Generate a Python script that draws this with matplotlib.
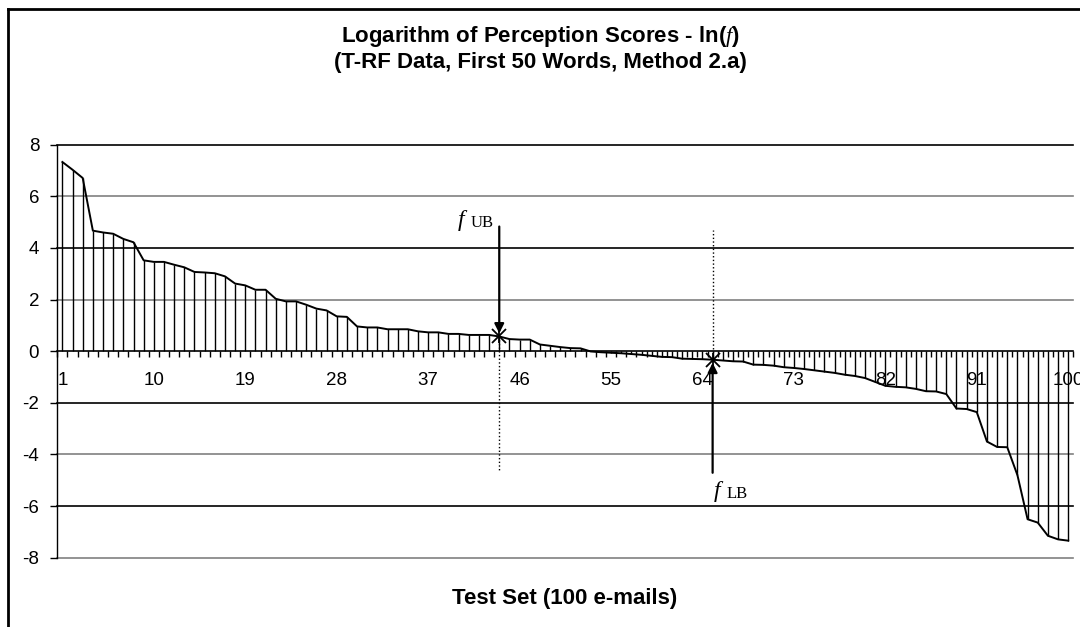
import matplotlib
matplotlib.use('Agg')
import matplotlib.pyplot as plt
from matplotlib.lines import Line2D
import numpy as np

plt.rcParams['font.family'] = ['Liberation Sans', 'DejaVu Sans']
plt.rcParams['mathtext.fontset'] = 'custom'
plt.rcParams['mathtext.rm'] = 'Liberation Serif'
plt.rcParams['mathtext.it'] = 'Liberation Serif:italic'

# ln(f) for the 100 test e-mails, sorted
scores = [7.33, 7.03, 6.71, 4.67, 4.60, 4.55, 4.35, 4.22, 3.52, 3.46,
          3.46, 3.35, 3.25, 3.07, 3.05, 3.02, 2.90, 2.62, 2.55, 2.38,
          2.38, 2.03, 1.93, 1.93, 1.80, 1.65, 1.58, 1.35, 1.33, 0.96,
          0.92, 0.92, 0.85, 0.85, 0.85, 0.77, 0.73, 0.73, 0.67, 0.67,
          0.63, 0.63, 0.63, 0.57, 0.47, 0.45, 0.45, 0.26, 0.21, 0.16,
          0.12, 0.11, -0.01, -0.04, -0.06, -0.08, -0.11, -0.14, -0.18, -0.22,
          -0.23, -0.29, -0.30, -0.31, -0.33, -0.36, -0.39, -0.40, -0.52, -0.53,
          -0.56, -0.62, -0.65, -0.69, -0.74, -0.79, -0.84, -0.91, -0.96, -1.04,
          -1.19, -1.34, -1.38, -1.40, -1.46, -1.55, -1.56, -1.66, -2.22, -2.24,
          -2.36, -3.50, -3.71, -3.72, -4.80, -6.51, -6.64, -7.15, -7.29, -7.34]
emails = list(range(1, 101))
x_ticks = list(range(1, 101, 9))
y_ticks = [-8, -6, -4, -2, 0, 2, 4, 6, 8]

ub_idx = 44
lb_idx = 65

fig = plt.figure(figsize=(10.8, 6.27), dpi=100)
ax = fig.add_axes([57.3 / 1080, 1 - 557.7 / 627, 1016 / 1080, 413 / 627])

# grid lines (alternate dark/grey like the original)
for yv in y_ticks:
    if yv == 0:
        continue
    col = '#000000' if yv in (8, 4, -2, -6) else '#808080'
    ax.axhline(yv, color=col, lw=1.2, zorder=1, clip_on=False)

ax.vlines(emails, 0, scores, color='black', lw=1.0, zorder=2)
ax.plot(emails, scores, color='black', lw=1.4, zorder=3)

ub_y = scores[ub_idx - 1]
lb_y = scores[lb_idx - 1]
for xi, yi in [(ub_idx, ub_y), (lb_idx, lb_y)]:
    ax.plot(xi, yi, marker='x', ms=10, mew=1.3, color='black', zorder=5)
    ax.plot(xi, yi, marker='|', ms=10, mew=1.3, color='black', zorder=5)

# bounds
ax.plot([ub_idx, ub_idx], [ub_y, -4.6], ls=':', color='black', lw=1.0, zorder=4)
ax.plot([lb_idx, lb_idx], [lb_y, 4.7], ls=':', color='black', lw=1.0, zorder=4)
ax.annotate('', xy=(ub_idx, ub_y + 0.12), xytext=(ub_idx, 4.83),
            arrowprops=dict(arrowstyle='-|>', color='black', lw=1.6,
                            mutation_scale=14, shrinkA=0, shrinkB=0), zorder=6)
ax.annotate('', xy=(lb_idx, lb_y - 0.12), xytext=(lb_idx, -4.71),
            arrowprops=dict(arrowstyle='-|>', color='black', lw=1.6,
                            mutation_scale=14, shrinkA=0, shrinkB=0), zorder=6)

serif = ['Liberation Serif', 'DejaVu Serif']
for xv, yv, sub in [(39.9, 4.85, 'UB'), (65.1, -5.64, 'LB')]:
    ax.text(xv, yv, 'f', fontsize=17, family=serif, style='italic',
            ha='left', va='baseline')
    ax.annotate(sub, xy=(xv, yv), xytext=(9.5, -1), textcoords='offset points',
                fontsize=12, family=serif, ha='left', va='baseline')

ax.set_xlim(0.5, 100.5)
ax.set_ylim(-8, 8)
ax.spines['top'].set_visible(False)
ax.spines['right'].set_visible(False)
ax.spines['bottom'].set_position(('data', 0))
ax.spines['bottom'].set_linewidth(1.2)
ax.spines['left'].set_linewidth(1.0)
ax.set_xticks(x_ticks)
ax.set_xticklabels([str(v) for v in x_ticks])
ax.set_xticks(np.arange(0.5, 101, 1), minor=True)
ax.tick_params(axis='x', which='major', length=0, pad=15, labelsize=13.5)
ax.tick_params(axis='x', which='minor', length=4, width=1, direction='out')
ax.set_yticks(y_ticks)
ax.set_yticklabels([str(v) for v in y_ticks])
ax.tick_params(axis='y', length=5, width=1, pad=8, labelsize=13.5)
ax.patch.set_alpha(0)

fig.text(540 / 1080, 1 - 42 / 627, r'Logarithm of Perception Scores - ln($f$)',
         ha='center', va='baseline', fontsize=16, fontweight='bold')
fig.text(540 / 1080, 1 - 68 / 627, '(T-RF Data, First 50 Words, Method 2.a)',
         ha='center', va='baseline', fontsize=16, fontweight='bold')
fig.text(565 / 1080, 1 - 604 / 627, 'Test Set (100 e-mails)',
         ha='center', va='baseline', fontsize=16, fontweight='bold')

# outer chart frame
fig.add_artist(Line2D([8 / 1080, 8 / 1080], [-0.1, 1 - 9 / 627], color='black', lw=2,
                      transform=fig.transFigure))
fig.add_artist(Line2D([8 / 1080, 1.1], [1 - 9 / 627, 1 - 9 / 627], color='black', lw=2,
                      transform=fig.transFigure))

fig.savefig('out.png', dpi=100)
